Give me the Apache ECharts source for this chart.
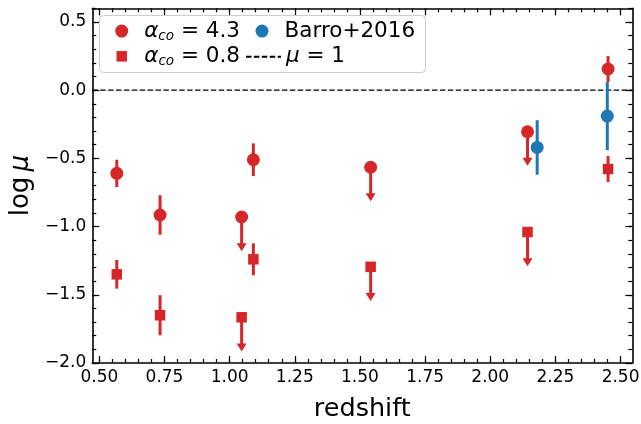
<!DOCTYPE html>
<html>
<head>
<meta charset="utf-8">
<script src="https://cdn.jsdelivr.net/npm/echarts@6/dist/echarts.min.js"></script>
<style>html,body{margin:0;padding:0;background:#fff;}#chart{width:641px;height:424px;}</style>
</head>
<body>
<div id="chart"></div>
<script>
// ---- data ----
const redshift      = [0.567, 0.733, 1.046, 1.091, 1.541, 2.143, 2.452];
const logMu43       = [-0.61, -0.915, -0.93, -0.51, -0.565, -0.305, 0.155];
const err43         = [0.10, 0.145, 0.25, 0.12, 0.25, 0.25, 0.095];
const logMu08       = [-1.35, -1.65, -1.665, -1.24, -1.295, -1.04, -0.578];
const err08         = [0.105, 0.147, 0.25, 0.117, 0.25, 0.25, 0.095];
const upperLimit    = [0, 0, 1, 0, 1, 1, 0];
const redshiftBarro = [2.18, 2.449];
const logMuBarro    = [-0.42, -0.19];
const errBarro      = [0.20, 0.25];
const muOneLevel    = 0;

const xTicks = [0.50, 0.75, 1.00, 1.25, 1.50, 1.75, 2.00, 2.25, 2.50];
const yTicks = [-2.0, -1.5, -1.0, -0.5, 0.0, 0.5];
const X_MIN = 0.473, X_MAX = 2.545, Y_MIN = -2.0, Y_MAX = 0.6;

const xMinor = [], yMinor = [];
for (let v = 0.5; v <= 2.5001; v += 0.05) xMinor.push(+v.toFixed(2));
for (let v = -2.0; v <= 0.6001; v += 0.1) yMinor.push(+v.toFixed(1));

const RED = '#d62728', BLUE = '#1f77b4';
const FONT = 'DejaVu Sans';

function errRender(color) {
  return function (params, api) {
    const x = api.value(0), y = api.value(1), e = api.value(2), lim = api.value(3);
    const top = api.coord([x, lim ? y : y + e]);
    const bot = api.coord([x, y - e]);
    const children = [{
      type: 'line',
      shape: { x1: top[0], y1: top[1], x2: bot[0], y2: lim ? bot[1] - 5 : bot[1] },
      style: { stroke: color, lineWidth: 3 }
    }];
    if (lim) {
      children.push({
        type: 'polygon',
        shape: { points: [[bot[0] - 5, bot[1] - 8], [bot[0] + 5, bot[1] - 8], [bot[0], bot[1]]] },
        style: { fill: color }
      });
    }
    return { type: 'group', children };
  };
}

const pts43 = redshift.map((z, i) => [z, logMu43[i]]);
const pts08 = redshift.map((z, i) => [z, logMu08[i]]);
const ptsBarro = redshiftBarro.map((z, i) => [z, logMuBarro[i]]);
const eb43 = redshift.map((z, i) => [z, logMu43[i], err43[i], upperLimit[i]]);
const eb08 = redshift.map((z, i) => [z, logMu08[i], err08[i], upperLimit[i]]);
const ebBarro = redshiftBarro.map((z, i) => [z, logMuBarro[i], errBarro[i], 0]);

const legendNames = {
  a43: '{a|α}{s|co}{t| = 4.3}',
  a08: '{a|α}{s|co}{t| = 0.8}',
  barro: '{t|Barro+2016}',
  mu1: '{a|μ}{t| = 1}'
};
const LFS = 21.5;
const legendRich = {
  a: { fontSize: LFS, fontStyle: 'italic', fontFamily: FONT, color: '#000', lineHeight: 24 },
  s: { fontSize: 13.5, fontStyle: 'italic', fontFamily: FONT, color: '#000', lineHeight: 12, verticalAlign: 'bottom' },
  t: { fontSize: LFS, fontFamily: FONT, color: '#000', lineHeight: 24 }
};
function mkLegend(name, left, top, ih, icon, extra) {
  const d = Object.assign({ name: name }, extra || {});
  if (icon) d.icon = icon;
  return {
    left: left, top: top, padding: 0, orient: 'vertical',
    itemWidth: 35, itemHeight: ih, itemGap: 0, itemTextGap: 5,
    selectedMode: false, data: [d],
    formatter: n => legendNames[n],
    textStyle: { fontSize: LFS, fontFamily: FONT, color: '#000', rich: legendRich }
  };
}

const axisLineStyle = { color: '#000', width: 1.6 };
function xAx(pos, major) {
  return {
    type: 'value', min: X_MIN, max: X_MAX, position: pos,
    axisLine: { show: major, onZero: false, lineStyle: axisLineStyle },
    axisTick: { show: true, inside: true, length: major ? 7 : 4, customValues: major ? xTicks : xMinor, lineStyle: { color: '#000', width: 1.2 } },
    axisLabel: { show: major && pos === 'bottom', customValues: xTicks, formatter: v => v.toFixed(2), fontSize: 17, fontFamily: FONT, color: '#000', margin: 6 },
    splitLine: { show: false },
    name: (major && pos === 'bottom') ? 'redshift' : '',
    nameLocation: 'middle', nameGap: 33,
    nameTextStyle: { fontSize: 25.5, fontFamily: FONT, color: '#000' }
  };
}
function yAx(pos, major) {
  return {
    type: 'value', min: Y_MIN, max: Y_MAX, position: pos,
    axisLine: { show: major, onZero: false, lineStyle: axisLineStyle },
    axisTick: { show: true, inside: true, length: major ? 7 : 4, customValues: major ? yTicks : yMinor, lineStyle: { color: '#000', width: 1.2 } },
    axisLabel: { show: major && pos === 'left', customValues: yTicks, formatter: v => v.toFixed(1).replace('-', '\u2212'), fontSize: 17, fontFamily: FONT, color: '#000', margin: 6 },
    splitLine: { show: false },
    name: (major && pos === 'left') ? '{n|log}{m|\u2009μ}' : '',
    nameLocation: 'middle', nameGap: 58, nameRotate: 90,
    nameTextStyle: { fontSize: 26, fontFamily: FONT, color: '#000',
      rich: { n: { fontSize: 26, fontFamily: FONT, color: '#000' }, m: { fontSize: 26, fontFamily: FONT, fontStyle: 'italic', color: '#000' } } }
  };
}

const option = {
  animation: false,
  backgroundColor: '#fff',
  grid: { left: 92.3, right: 8.7, top: 8.3, bottom: 61, containLabel: false, outerBoundsMode: 'none' },
  xAxis: [xAx('bottom', true), xAx('bottom', false), xAx('top', true), xAx('top', false)],
  yAxis: [yAx('left', true), yAx('left', false), yAx('right', true), yAx('right', false)],
  graphic: [{
    type: 'rect', left: 99, top: 15, z: 100,
    shape: { width: 326, height: 57, r: 4 },
    style: { fill: 'rgba(255,255,255,0.8)', stroke: '#cccccc', lineWidth: 1 }
  }],
  legend: [
    mkLegend('a43', 115.2, 20.1, 13, 'circle'),
    mkLegend('a08', 116.5, 45.3, 10.5, 'path://M0,0h10v10h-10z'),
    mkLegend('barro', 255.5, 20.1, 13, 'circle'),
    mkLegend('mu1', 245, 45.8, 13, null, { itemStyle: { color: 'rgba(0,0,0,0)', borderWidth: 0, opacity: 0 } })
  ].map(l => Object.assign(l, { z: 101 })),
  series: [
    { name: 'mu1', type: 'line', data: [[X_MIN, muOneLevel], [X_MAX, muOneLevel]], showSymbol: false, symbol: 'none',
      color: '#000', lineStyle: { color: '#000', width: 1.4, type: [5.5, 2.4] }, z: 1, silent: true },
    { name: 'eb43', type: 'custom', renderItem: errRender(RED), data: eb43, encode: { x: 0, y: 1 }, z: 2, silent: true },
    { name: 'eb08', type: 'custom', renderItem: errRender(RED), data: eb08, encode: { x: 0, y: 1 }, z: 2, silent: true },
    { name: 'ebBarro', type: 'custom', renderItem: errRender(BLUE), data: ebBarro, encode: { x: 0, y: 1 }, z: 2, silent: true },
    { name: 'a43', type: 'scatter', data: pts43, symbol: 'circle', symbolSize: 13, itemStyle: { color: RED, opacity: 1 }, z: 3 },
    { name: 'a08', type: 'scatter', data: pts08, symbol: 'rect', symbolSize: 10.5, itemStyle: { color: RED, opacity: 1 }, z: 3 },
    { name: 'barro', type: 'scatter', data: ptsBarro, symbol: 'circle', symbolSize: 13, itemStyle: { color: BLUE, opacity: 1 }, z: 3 }
  ]
};

const chart = echarts.init(document.getElementById('chart'), null, { renderer: 'canvas' });
chart.setOption(option);
</script>
</body>
</html>
